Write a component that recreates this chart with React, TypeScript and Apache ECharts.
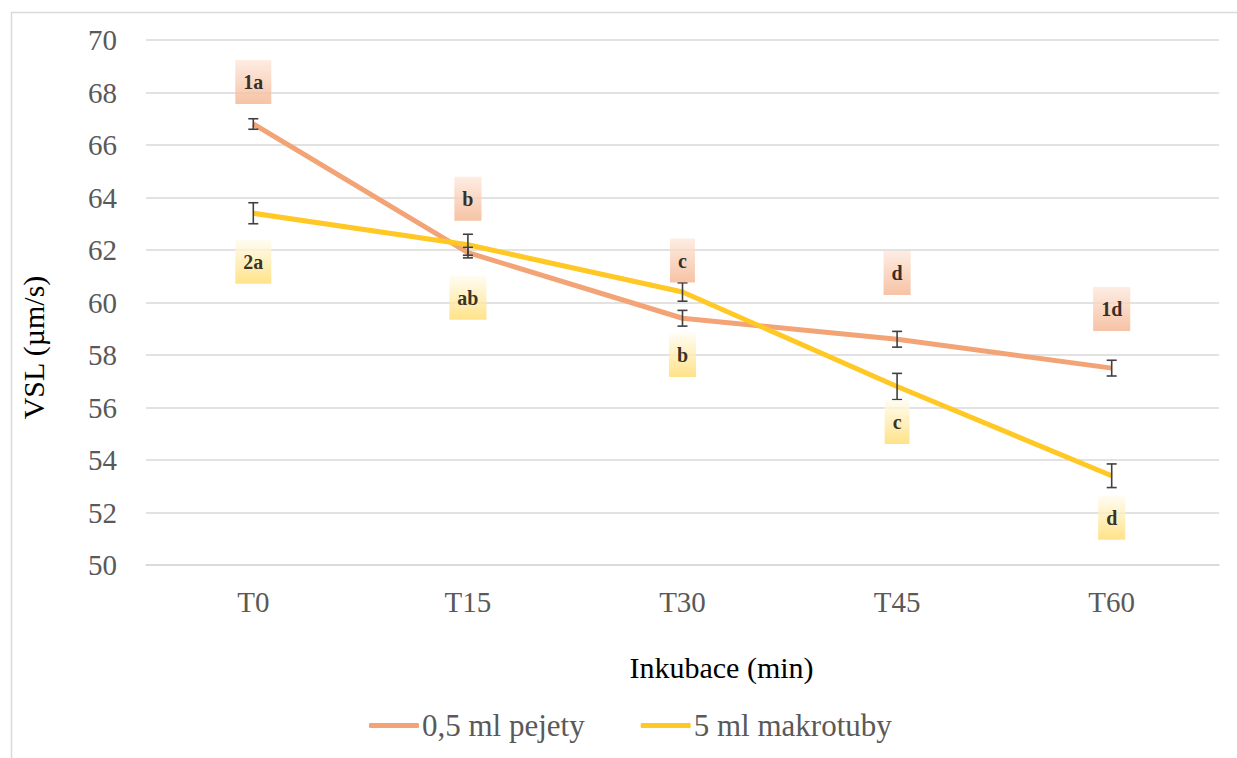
import React, { useEffect, useRef } from "react";
import * as echarts from "echarts";

const categories = ["T0", "T15", "T30", "T45", "T60"];
const seriesNames = ["0,5 ml pejety", "5 ml makrotuby"];
const pejety = [66.8, 61.9, 59.4, 58.6, 57.5];
const pejetyErr = [0.2, 0.2, 0.3, 0.3, 0.3];
const makrotuby = [63.4, 62.2, 60.4, 56.8, 53.4];
const makrotubyErr = [0.4, 0.4, 0.35, 0.5, 0.45];
const pejetyLabels = ["1a", "b", "c", "d", "1d"];
const pejetyLabelY = [68.4, 63.95, 61.6, 61.12, 59.75];
const makrotubyLabels = ["2a", "ab", "b", "c", "d"];
const makrotubyLabelY = [61.55, 60.18, 58.0, 55.45, 51.8];
const yMin = 50;
const yMax = 70;
const yStep = 2;

const FONT = "Liberation Serif, Times New Roman, serif";
const ORANGE = "#F3A477";
const YELLOW = "#FFC824";

export default function App() {
  const ref = useRef<HTMLDivElement>(null);
  useEffect(() => {
    if (!ref.current) return;
    const chart = echarts.init(ref.current, undefined, { renderer: "svg" });

    const errSeries = (vals: number[], errs: number[]) => ({
      type: "custom",
      z: 5,
      silent: true,
      encode: { x: 0, y: 1 },
      data: categories.map((_, i) => [i, vals[i], errs[i]]),
      renderItem: (params: any, api: any) => {
        const x = api.value(0);
        const y = api.value(1);
        const e = api.value(2);
        const top = api.coord([x, y + e]);
        const bot = api.coord([x, y - e]);
        const hw = 5;
        const st = { stroke: "#404040", lineWidth: 1.6 };
        return {
          type: "group",
          children: [
            { type: "line", shape: { x1: top[0], y1: top[1], x2: bot[0], y2: bot[1] }, style: st },
            { type: "line", shape: { x1: top[0] - hw, y1: top[1], x2: top[0] + hw, y2: top[1] }, style: st },
            { type: "line", shape: { x1: bot[0] - hw, y1: bot[1], x2: bot[0] + hw, y2: bot[1] }, style: st },
          ],
        };
      },
    });

    const labelSeries = (ys: number[], texts: string[], c0: string, c1: string) => ({
      type: "scatter",
      z: 6,
      silent: true,
      symbolSize: 1,
      itemStyle: { color: "rgba(0,0,0,0)" },
      data: categories.map((_, i) => [i, ys[i]]),
      label: {
        show: true,
        position: "inside",
        formatter: (p: any) => texts[p.dataIndex],
        fontFamily: FONT,
        fontWeight: "bold",
        fontSize: 20,
        color: "#000",
        padding: [11, 8, 13, 8],
        backgroundColor: new echarts.graphic.LinearGradient(0, 0, 0, 1, [
          { offset: 0, color: c0 },
          { offset: 1, color: c1 },
        ]),
      },
    });

    chart.setOption({
      animation: false,
      backgroundColor: "#ffffff",
      textStyle: { fontFamily: FONT },
      graphic: [
        {
          type: "rect",
          left: 9,
          top: 10,
          shape: { width: 1300, height: 800 },
          style: { fill: "none", stroke: "#d9d9d9", lineWidth: 1.5 },
          silent: true,
        },
      ],
      grid: { left: 146, right: 18, top: 40, bottom: 193 },
      legend: {
        data: seriesNames.map((n) => ({ name: n, icon: "roundRect" })),
        bottom: 12,
        left: 364,
        itemWidth: 50,
        itemHeight: 5,
        itemGap: 56,
        textStyle: { fontFamily: FONT, fontSize: 31, color: "#595959", padding: [0, 0, 0, -2] },
      },
      xAxis: {
        type: "category",
        data: categories,
        boundaryGap: true,
        axisLine: { show: true, lineStyle: { color: "#d9d9d9", width: 1.5 } },
        axisTick: { show: false },
        axisLabel: { fontFamily: FONT, fontSize: 29, color: "#595959", margin: 22 },
        name: "Inkubace (min)",
        nameLocation: "middle",
        nameGap: 87,
        nameTextStyle: { fontFamily: FONT, fontSize: 30, color: "#000", padding: [0, 0, 0, 78] },
      },
      yAxis: {
        type: "value",
        min: yMin,
        max: yMax,
        interval: yStep,
        axisLine: { show: false },
        axisTick: { show: false },
        splitLine: { lineStyle: { color: "#d9d9d9", width: 1.5 } },
        axisLabel: { fontFamily: FONT, fontSize: 29, color: "#595959", margin: 29 },
        name: "VSL (µm/s)",
        nameLocation: "middle",
        nameRotate: 90,
        nameGap: 98,
        nameTextStyle: { fontFamily: FONT, fontSize: 30, color: "#000", padding: [0, 90, 0, 0] },
      },
      series: [
        {
          name: seriesNames[0],
          type: "line",
          data: pejety,
          symbol: "none",
          z: 3,
          lineStyle: { color: ORANGE, width: 5 },
          itemStyle: { color: ORANGE },
        },
        {
          name: seriesNames[1],
          type: "line",
          data: makrotuby,
          symbol: "none",
          z: 4,
          lineStyle: { color: YELLOW, width: 5 },
          itemStyle: { color: YELLOW },
        },
        errSeries(pejety, pejetyErr),
        errSeries(makrotuby, makrotubyErr),
        labelSeries(pejetyLabelY, pejetyLabels, "#fde8dc", "#f4b48f"),
        labelSeries(makrotubyLabelY, makrotubyLabels, "#fffcf0", "#ffdc6c"),
      ],
    });
    return () => chart.dispose();
  }, []);
  return (
    <div
      ref={ref}
      style={{ position: "fixed", left: 0, top: 0, width: 1237, height: 758, background: "#fff" }}
    />
  );
}
